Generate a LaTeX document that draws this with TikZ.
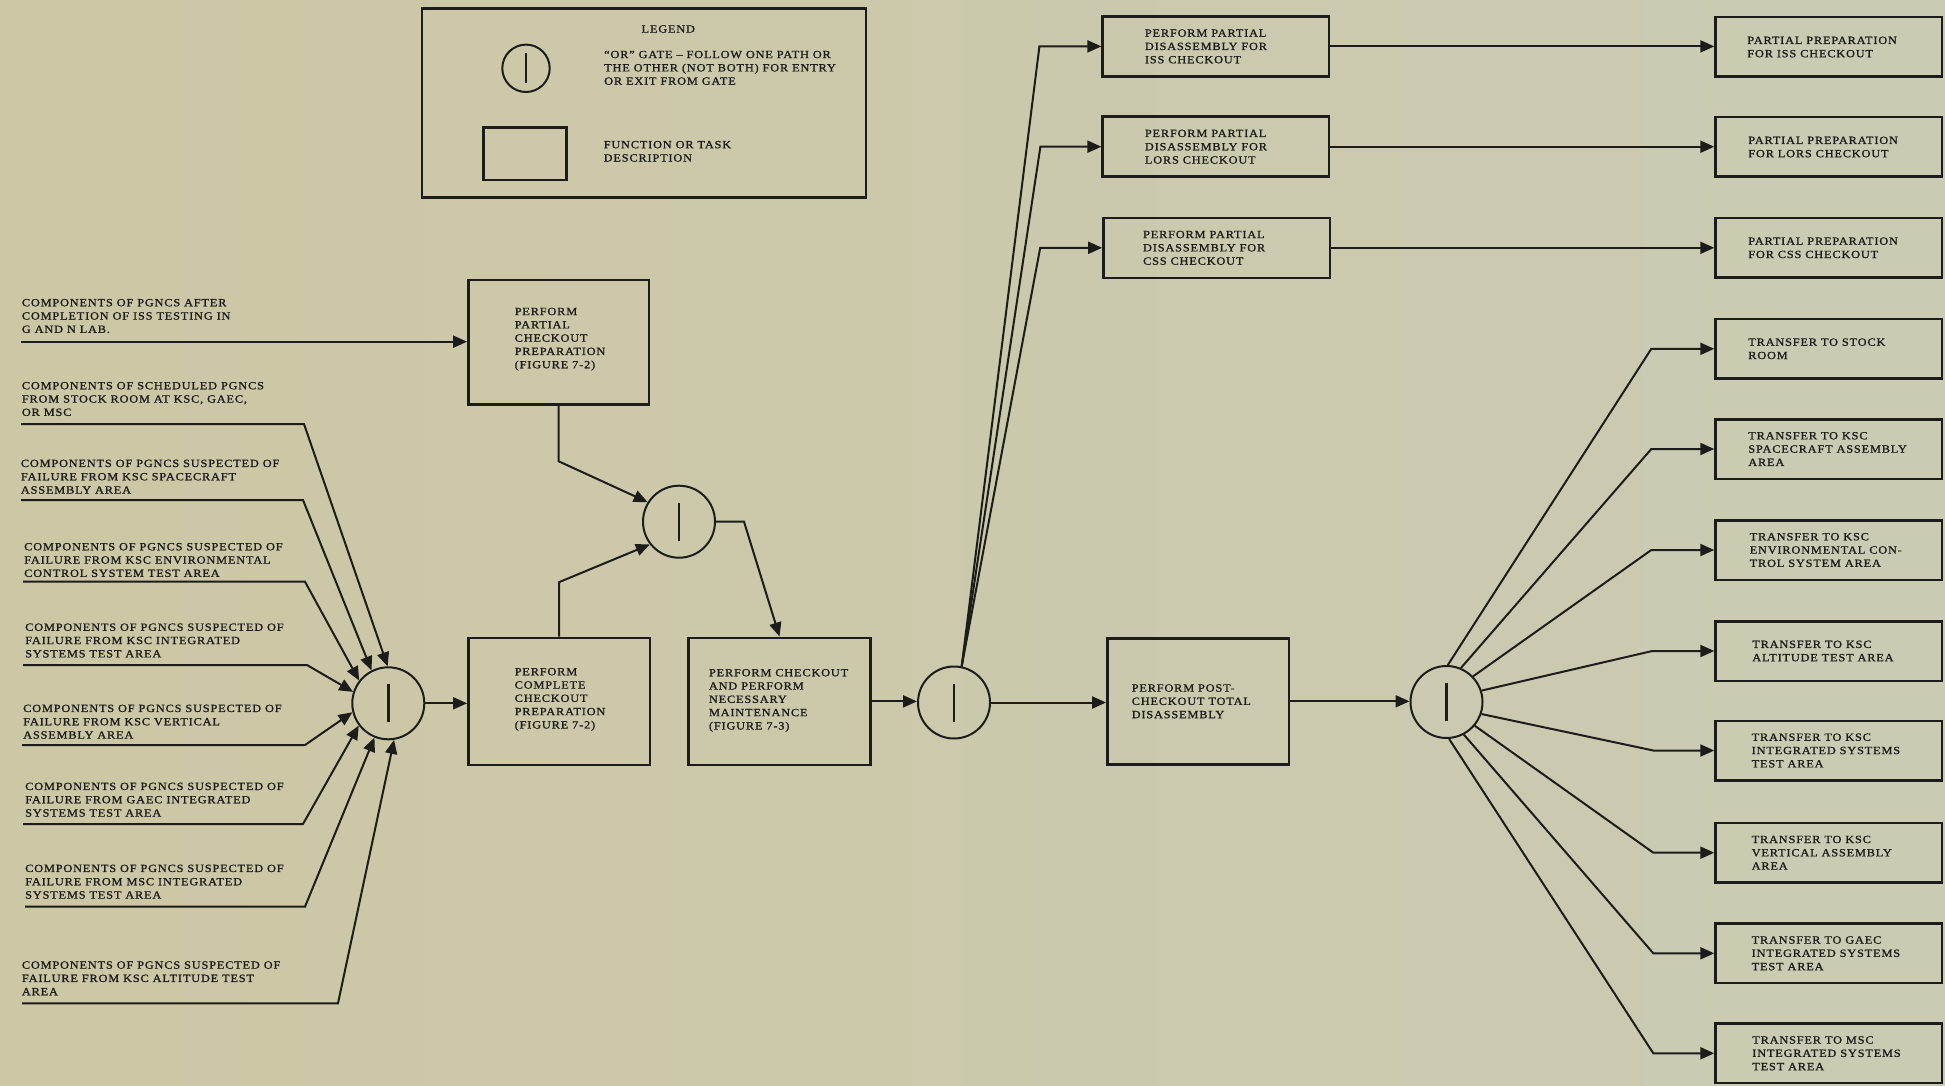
\documentclass[tikz,border=0pt]{standalone}
\usepackage{fontspec}
\setmainfont{Liberation Serif}[FakeStretch=1.12,LetterSpace=7.5,FakeBold=1.2]
\usetikzlibrary{arrows.meta}
\definecolor{ink}{RGB}{28,28,26}
\definecolor{paperL}{RGB}{204,199,164}
\definecolor{paperM}{RGB}{199,201,186}
\definecolor{paperR}{RGB}{203,203,180}
\begin{document}
\begin{tikzpicture}[x=1pt,y=-1pt,
  conn/.style={draw=ink, line width=2pt, -{Triangle[length=14pt,width=12pt]}},
  taskbox/.style={draw=ink, line width=2.5pt, inner sep=0pt},
  gate/.style={circle, draw=ink, line width=2pt, minimum size=72pt, inner sep=0pt},
  gbar/.style={draw=ink, line width=2.5pt},
  txt/.style={font=\fontsize{11}{13.3}\selectfont, align=left, inner sep=0pt, text=ink},
  rbox/.style={taskbox, minimum width=226.5pt, minimum height=59.5pt},
  dbox/.style={taskbox, minimum width=226.5pt, minimum height=60pt},
]
\useasboundingbox (0,0) rectangle (1945,1086);
\shade[left color=paperL, middle color=paperM, right color=paperR] (0,0) rectangle (1945,1086);

% ---------------- legend ----------------
\node[taskbox, minimum width=444.3pt, minimum height=189pt] (leg) at (643.9,102.8) {};
\node[txt] (legt) at (668.3,29) {LEGEND};
\node[gate, minimum size=47.4pt] (lg) at (526,68.3) {};
\draw[gbar] ([yshift=-15pt]lg.center) -- ([yshift=15pt]lg.center);
\node[txt, anchor=west] (lgt) at (604,67.8) {``OR'' GATE -- FOLLOW ONE PATH OR\\THE OTHER (NOT BOTH) FOR ENTRY\\OR EXIT FROM GATE};
\node[taskbox, minimum width=83.4pt, minimum height=52.7pt] (lr) at (525,153.7) {};
\node[txt, anchor=west] (lrt) at (603.5,151.3) {FUNCTION OR TASK\\DESCRIPTION};

% ---------------- gates ----------------
\node[gate] (g1) at (388.3,703.3) {};
\node[gate] (g2) at (679,521.7) {};
\node[gate] (g3) at (954,702.5) {};
\node[gate] (g4) at (1446.5,702) {};
\foreach \g in {g1,g2,g3,g4}{\draw[gbar] ([yshift=-19pt]\g.center) -- ([yshift=19pt]\g.center);}

% ---------------- left task boxes ----------------
\node[taskbox, minimum width=180.7pt, minimum height=124.3pt] (pp) at (558.7,342.2) {};
\node[txt, anchor=west] (tpp) at ([xshift=47.4pt,yshift=3pt]pp.west) {PERFORM\\PARTIAL\\CHECKOUT\\PREPARATION\\(FIGURE 7-2)};
\node[taskbox, minimum width=181.7pt, minimum height=127.3pt] (cp) at (559.2,701.4) {};
\node[txt, anchor=west] (tcp) at ([xshift=47.4pt,yshift=2pt]cp.west) {PERFORM\\COMPLETE\\CHECKOUT\\PREPARATION\\(FIGURE 7-2)};
\node[taskbox, minimum width=182.4pt, minimum height=127.3pt] (ck) at (779.5,701.4) {};
\node[txt, anchor=west] (tck) at ([xshift=21.7pt,yshift=1pt]ck.west) {PERFORM CHECKOUT\\AND PERFORM\\NECESSARY\\MAINTENANCE\\(FIGURE 7-3)};
\node[taskbox, minimum width=181.7pt, minimum height=126pt] (pt) at (1198.2,701.3) {};
\node[txt, anchor=west] (tpt) at ([xshift=25.4pt]pt.west) {PERFORM POST-\\CHECKOUT TOTAL\\DISASSEMBLY};

% ---------------- partial disassembly boxes ----------------
\node[dbox] (d1) at (1215.9,46.4) {};
\node[txt, anchor=west] (td1) at ([xshift=43.3pt]d1.west) {PERFORM PARTIAL\\DISASSEMBLY FOR\\ISS CHECKOUT};
\node[dbox] (d2) at (1215.9,146.7) {};
\node[txt, anchor=west] (td2) at ([xshift=43.3pt]d2.west) {PERFORM PARTIAL\\DISASSEMBLY FOR\\LORS CHECKOUT};
\node[dbox] (d3) at (1216.7,247.8) {};
\node[txt, anchor=west] (td3) at ([xshift=40.7pt]d3.west) {PERFORM PARTIAL\\DISASSEMBLY FOR\\CSS CHECKOUT};

% ---------------- right boxes ----------------
\node[rbox] (r1) at (1828.8,47) {};
\node[txt, anchor=west] (tr1) at ([xshift=32.8pt]r1.west) {PARTIAL PREPARATION\\FOR ISS CHECKOUT};
\node[rbox] (r2) at (1828.8,147) {};
\node[txt, anchor=west] (tr2) at ([xshift=33.8pt]r2.west) {PARTIAL PREPARATION\\FOR LORS CHECKOUT};
\node[rbox] (r3) at (1828.8,247.8) {};
\node[txt, anchor=west] (tr3) at ([xshift=33.8pt]r3.west) {PARTIAL PREPARATION\\FOR CSS CHECKOUT};
\node[rbox] (r4) at (1828.8,348.8) {};
\node[txt, anchor=west] (tr4) at ([xshift=33.8pt]r4.west) {TRANSFER TO STOCK\\ROOM};
\node[rbox] (r5) at (1828.8,449) {};
\node[txt, anchor=west] (tr5) at ([xshift=33.8pt]r5.west) {TRANSFER TO KSC\\SPACECRAFT ASSEMBLY\\AREA};
\node[rbox] (r6) at (1828.8,550) {};
\node[txt, anchor=west] (tr6) at ([xshift=35.2pt]r6.west) {TRANSFER TO KSC\\ENVIRONMENTAL CON-\\TROL SYSTEM AREA};
\node[rbox] (r7) at (1828.8,651) {};
\node[txt, anchor=west] (tr7) at ([xshift=37.8pt]r7.west) {TRANSFER TO KSC\\ALTITUDE TEST AREA};
\node[rbox] (r8) at (1828.8,750.5) {};
\node[txt, anchor=west] (tr8) at ([xshift=37.2pt]r8.west) {TRANSFER TO KSC\\INTEGRATED SYSTEMS\\TEST AREA};
\node[rbox] (r9) at (1828.8,852.7) {};
\node[txt, anchor=west] (tr9) at ([xshift=37.2pt]r9.west) {TRANSFER TO KSC\\VERTICAL ASSEMBLY\\AREA};
\node[rbox] (r10) at (1828.8,953.3) {};
\node[txt, anchor=west] (tr10) at ([xshift=37.2pt]r10.west) {TRANSFER TO GAEC\\INTEGRATED SYSTEMS\\TEST AREA};
\node[rbox] (r11) at (1828.8,1053.3) {};
\node[txt, anchor=west] (tr11) at ([xshift=37.8pt]r11.west) {TRANSFER TO MSC\\INTEGRATED SYSTEMS\\TEST AREA};

% ---------------- left source labels ----------------
\node[txt, anchor=west] (lab1) at (21.7,316) {COMPONENTS OF PGNCS AFTER\\COMPLETION OF ISS TESTING IN\\G AND N LAB.};
\node[txt, anchor=west] (lab2) at (21.7,399) {COMPONENTS OF SCHEDULED PGNCS\\FROM STOCK ROOM AT KSC, GAEC,\\OR MSC};
\node[txt, anchor=west] (lab3) at (20.7,476.7) {COMPONENTS OF PGNCS SUSPECTED OF\\FAILURE FROM KSC SPACECRAFT\\ASSEMBLY AREA};
\node[txt, anchor=west] (lab4) at (24,560) {COMPONENTS OF PGNCS SUSPECTED OF\\FAILURE FROM KSC ENVIRONMENTAL\\CONTROL SYSTEM TEST AREA};
\node[txt, anchor=west] (lab5) at (25,640.5) {COMPONENTS OF PGNCS SUSPECTED OF\\FAILURE FROM KSC INTEGRATED\\SYSTEMS TEST AREA};
\node[txt, anchor=west] (lab6) at (23,721.7) {COMPONENTS OF PGNCS SUSPECTED OF\\FAILURE FROM KSC VERTICAL\\ASSEMBLY AREA};
\node[txt, anchor=west] (lab7) at (25,799.7) {COMPONENTS OF PGNCS SUSPECTED OF\\FAILURE FROM GAEC INTEGRATED\\SYSTEMS TEST AREA};
\node[txt, anchor=west] (lab8) at (25,881.7) {COMPONENTS OF PGNCS SUSPECTED OF\\FAILURE FROM MSC INTEGRATED\\SYSTEMS TEST AREA};
\node[txt, anchor=west] (lab9) at (21.7,978.3) {COMPONENTS OF PGNCS SUSPECTED OF\\FAILURE FROM KSC ALTITUDE TEST\\AREA};

% ---------------- connectors: sources ----------------
\coordinate (s1) at (21,341.7);
\draw[conn] (s1) -- (s1 -| pp.west);
\coordinate (s2) at (21,424);    \coordinate (k2) at (304,424);
\coordinate (s3) at (21,500);    \coordinate (k3) at (303,500);
\coordinate (s4) at (23,581.7);  \coordinate (k4) at (305,581.7);
\coordinate (s5) at (23,665);    \coordinate (k5) at (307,665);
\coordinate (s6) at (22,745);    \coordinate (k6) at (305,745);
\coordinate (s7) at (23,824);    \coordinate (k7) at (303,824);
\coordinate (s8) at (25,906.7);  \coordinate (k8) at (305,906.7);
\coordinate (s9) at (22,1003.3); \coordinate (k9) at (338,1003.3);
\draw[conn] (s2) -- (k2) -- (g1.91);
\draw[conn] (s3) -- (k3) -- (g1.117);
\draw[conn] (s4) -- (k4) -- (g1.142);
\draw[conn] (s5) -- (k5) -- (g1.162);
\draw[conn] (s6) -- (k6) -- (g1.194);
\draw[conn] (s7) -- (k7) -- (g1.217);
\draw[conn] (s8) -- (k8) -- (g1.248);
\draw[conn] (s9) -- (k9) -- (g1.279);

% ---------------- connectors: main flow ----------------
\draw[conn] (g1.east) -- (g1.east -| cp.west);
\draw[conn] (pp.south) -- ++(0,55.7) -- (g2.148);
\draw[conn] (cp.north) -- ++(0,-54.4) -- (g2.218);
\draw[conn] (g2.east) -- ++(28,0) -- (ck.north);
\draw[conn] (ck.east) -- (ck.east -| g3.west);
\draw[conn] (g3.east) -- (g3.east -| pt.west);
\draw[conn] (g3.78) -- ([xshift=-62pt]d1.west) -- (d1.west);
\draw[conn] (g3.78) -- ([xshift=-61pt]d2.west) -- (d2.west);
\draw[conn] (g3.78) -- ([xshift=-62pt]d3.west) -- (d3.west);
\draw[conn] (d1.east) -- (d1.east -| r1.west);
\draw[conn] (d2.east) -- (d2.east -| r2.west);
\draw[conn] (d3.east) -- (d3.east -| r3.west);
\draw[conn] (pt.east) -- (pt.east -| g4.west);

% ---------------- connectors: distribution ----------------
\draw[conn] (g4.88)  -- ([xshift=-63pt]r4.west)  -- (r4.west);
\draw[conn] (g4.67)  -- ([xshift=-63pt]r5.west)  -- (r5.west);
\draw[conn] (g4.44)  -- ([xshift=-63pt]r6.west)  -- (r6.west);
\draw[conn] (g4.18)  -- ([xshift=-62pt]r7.west)  -- (r7.west);
\draw[conn] (g4.-19) -- ([xshift=-61pt]r8.west)  -- (r8.west);
\draw[conn] (g4.-40) -- ([xshift=-61pt]r9.west)  -- (r9.west);
\draw[conn] (g4.-62) -- ([xshift=-61pt]r10.west) -- (r10.west);
\draw[conn] (g4.-86) -- ([xshift=-61pt]r11.west) -- (r11.west);
\end{tikzpicture}
\end{document}
